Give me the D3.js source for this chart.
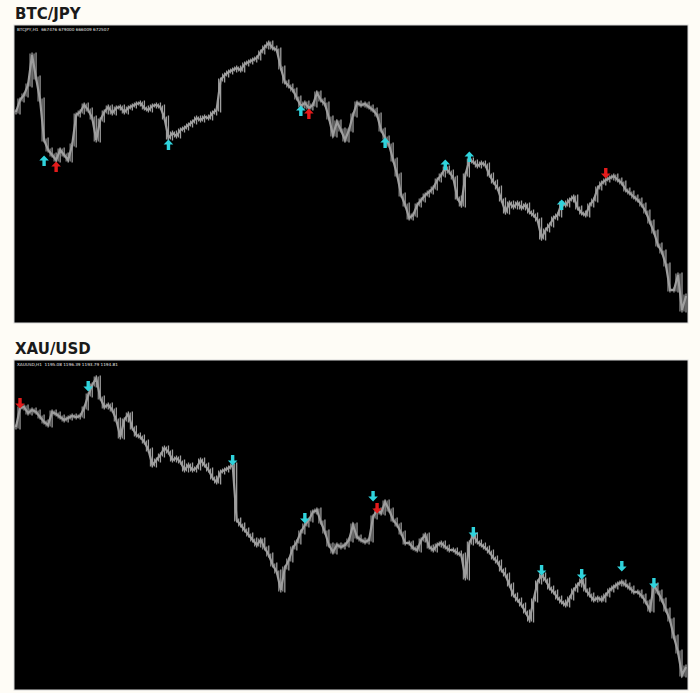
<!DOCTYPE html>
<html>
<head>
<meta charset="utf-8">
<script src="https://cdn.jsdelivr.net/npm/d3@7"></script>
<style>
  html, body { margin: 0; padding: 0; background: #fefcf6; }
  svg { display: block; }
</style>
</head>
<body>
<svg id="chart" width="700" height="693"></svg>
<script>
// ---------- DATA ----------
const btcTitle = "BTC/JPY";
const btcHeader = "BTCJPY,H1  667476 679000 666009 672507";
// H1 closes, thousands of JPY
const btcPrices = [
  766, 772, 774.5, 779.5, 794.5, 783, 772, 752, 747, 744.5,
  742, 747, 744.5, 742, 749.5, 764.5, 766, 769.5, 767, 763,
  752, 762, 766, 768.5, 765.5, 768, 768.5, 766, 768, 769,
  770, 770.5, 768, 767, 769, 769.5, 768.5, 763, 753, 755.5,
  754, 757, 758, 759.5, 761, 763, 762, 763.5, 763, 765.5,
  767, 782, 784.5, 786, 787, 788, 787, 790, 791, 792,
  793, 796, 798.5, 800.5, 798, 797, 788, 781, 779, 777,
  773, 769, 770.5, 768, 769.5, 775.5, 772, 770, 763, 754.5,
  761, 757, 752, 757, 764.5, 770.5, 769.5, 770, 768.5, 767,
  764.5, 757, 753, 749.5, 742, 734.5, 724.5, 719.5, 713, 714.5,
  719.5, 722, 724.5, 726, 728, 732, 734.5, 738, 736, 733,
  723, 719.5, 734.5, 742, 741, 739, 740.5, 739.5, 734.5, 731,
  728, 722, 716, 720.5, 718.5, 720.5, 718, 719.5, 716, 714.5,
  712, 703, 707, 709.5, 713, 714.5, 720.5, 719.5, 722, 723.5,
  718, 715.5, 714.5, 719.5, 722, 728, 730.5, 732, 733, 734,
  732, 730.5, 727, 725.5, 723.5, 722, 719.5, 716, 711, 706,
  699.5, 696, 689.5, 677, 677, 684.5, 667, 674
];
const btcDomain = [660.5, 809.5];
// signal arrows: bar index, price level, colour kind, direction
const btcSignalIndex = [7, 10, 38, 71, 73, 92, 107, 113, 136, 147];
const btcSignalPrice = [741.5, 738.5, 749.5, 766.5, 765, 750.5, 739.5, 743.5, 719.5, 735.5];
const btcSignalKind  = ["buy", "sell", "buy", "buy", "sell", "buy", "buy", "buy", "buy", "sell"];
const btcSignalDir   = ["up", "up", "up", "up", "up", "up", "up", "up", "up", "down"];

const xauTitle = "XAU/USD";
const xauHeader = "XAUUSD,H1  1195.08 1196.39 1193.79 1194.81";
const xauPrices = [
  1218.8, 1220.7, 1220.8, 1220.2, 1220.5, 1220.3, 1219.8, 1219.3, 1219.0, 1220.3,
  1220.1, 1219.8, 1219.5, 1219.7, 1219.9, 1219.8, 1219.9, 1220.7, 1222.0, 1223.0,
  1223.7, 1221.7, 1220.8, 1221.0, 1220.5, 1219.5, 1217.8, 1219.5, 1220.1, 1218.7,
  1218.0, 1217.8, 1217.3, 1216.5, 1215.0, 1215.5, 1216.0, 1216.7, 1216.3, 1215.5,
  1215.7, 1215.3, 1214.5, 1215.0, 1214.5, 1214.7, 1215.5, 1215.0, 1214.5, 1213.7,
  1213.3, 1214.3, 1214.5, 1214.7, 1215.0, 1209.5, 1209.0, 1208.5, 1208.0, 1207.5,
  1207.0, 1207.5, 1206.7, 1206.0, 1205.0, 1204.3, 1202.5, 1204.7, 1205.5, 1206.7,
  1207.3, 1208.3, 1209.0, 1209.5, 1210.3, 1210.5, 1209.3, 1208.3, 1207.0, 1206.3,
  1207.0, 1206.8, 1207.0, 1207.5, 1209.0, 1207.8, 1207.5, 1207.3, 1207.5, 1209.8,
  1210.5, 1210.2, 1211.3, 1210.5, 1209.5, 1209.0, 1208.2, 1207.2, 1207.2, 1206.7,
  1206.5, 1207.5, 1208.0, 1206.8, 1206.5, 1207.0, 1207.2, 1206.8, 1206.5, 1206.5,
  1206.2, 1206.0, 1203.7, 1207.2, 1208.0, 1207.3, 1207.0, 1206.7, 1206.3, 1205.7,
  1205.3, 1204.5, 1204.0, 1203.0, 1202.0, 1201.5, 1201.0, 1200.3, 1199.5, 1201.5,
  1203.3, 1204.0, 1203.5, 1202.7, 1202.3, 1201.7, 1201.3, 1201.0, 1201.7, 1202.5,
  1203.0, 1203.5, 1202.5, 1202.0, 1201.5, 1201.7, 1201.5, 1202.0, 1202.5, 1202.8,
  1203.1, 1203.3, 1203.0, 1202.7, 1202.3, 1202.3, 1201.9, 1201.3, 1200.5, 1203.0,
  1202.3, 1201.5, 1200.5, 1199.5, 1197.8, 1196.3, 1194.0, 1194.8
];
const xauDomain = [1192.5, 1225.5];
const xauSignalIndex = [1, 18, 54, 72, 89, 90, 114, 131, 141, 151, 159];
const xauSignalPrice = [1221.2, 1222.9, 1215.5, 1209.7, 1211.9, 1210.7, 1208.3, 1204.5, 1204.1, 1204.9, 1203.2];
const xauSignalKind  = ["sell", "buy", "buy", "buy", "buy", "sell", "buy", "buy", "buy", "buy", "buy"];
const xauSignalDir   = ["down", "down", "down", "down", "down", "down", "down", "down", "down", "down", "down"];

// ---------- DRAW ----------
const svg = d3.select("#chart");
const colors = { buy: "#2fd3dc", sell: "#e41b1b", line: "#9e9e9e" };

function arrowPath() {
  return "M0,-5.5 L4.8,-0.5 L1.7,-0.5 L1.7,5 L-1.7,5 L-1.7,-0.5 L-4.8,-0.5 Z";
}

function drawPanel(cfg) {
  const g = svg.append("g");
  g.append("text")
    .attr("x", cfg.titleX).attr("y", cfg.titleY)
    .attr("font-family", "DejaVu Sans, Verdana, sans-serif")
    .attr("font-weight", "bold").attr("font-size", 15)
    .attr("fill", "#1a1a1a")
    .text(cfg.title);

  g.append("rect")
    .attr("x", cfg.x0).attr("y", cfg.y0)
    .attr("width", cfg.x1 - cfg.x0).attr("height", cfg.y1 - cfg.y0)
    .attr("fill", "#000").attr("stroke", "#d8d8d8").attr("stroke-width", 1);

  g.append("text")
    .attr("x", cfg.x0 + 3).attr("y", cfg.y0 + 6)
    .attr("font-family", "DejaVu Sans, sans-serif")
    .attr("font-size", 4.2).attr("fill", "#e8e8e8")
    .attr("xml:space", "preserve")
    .text(cfg.header);

  const data = cfg.prices;
  const x = d3.scaleLinear().domain([0, data.length - 1]).range([cfg.x0 + 2, cfg.x1 - 2]);
  const y = d3.scaleLinear().domain(cfg.domain).range([cfg.y1, cfg.y0]);

  const clip = "clip" + cfg.id;
  g.append("clipPath").attr("id", clip).append("rect")
    .attr("x", cfg.x0).attr("y", cfg.y0)
    .attr("width", cfg.x1 - cfg.x0).attr("height", cfg.y1 - cfg.y0);
  const inner = g.append("g").attr("clip-path", `url(#${clip})`);

  // H1 bars: each bar spans from the previous close to its own close, plus wick
  const step = x(1) - x(0);
  inner.selectAll("line.wick").data(data).join("line")
    .attr("class", "wick")
    .attr("x1", (d, i) => x(i)).attr("x2", (d, i) => x(i))
    .attr("y1", (d, i) => y(Math.max(d, data[Math.max(0, i - 1)])) - 2.5)
    .attr("y2", (d, i) => y(Math.min(d, data[Math.max(0, i - 1)])) + 2.5)
    .attr("stroke", colors.line).attr("stroke-width", 1.3);
  inner.selectAll("line.mid").data(data).join("line")
    .attr("class", "mid")
    .attr("x1", (d, i) => x(i) - step / 2).attr("x2", (d, i) => x(i) - step / 2)
    .attr("y1", (d, i) => y(Math.max(d, data[Math.max(0, i - 1)])) - 1.5)
    .attr("y2", (d, i) => y(Math.min(d, data[Math.max(0, i - 1)])) + 1.5)
    .attr("stroke", colors.line).attr("stroke-width", 1.1);

  inner.append("path").datum(data)
    .attr("d", d3.line().x((d, i) => x(i)).y(d => y(d)))
    .attr("fill", "none").attr("stroke", colors.line)
    .attr("stroke-width", 2.2).attr("stroke-linejoin", "miter");

  const sig = cfg.sigIndex.map((idx, k) => ({
    i: idx, p: cfg.sigPrice[k], kind: cfg.sigKind[k], dir: cfg.sigDir[k]
  }));
  inner.selectAll("path.sig").data(sig).join("path")
    .attr("class", "sig")
    .attr("d", arrowPath())
    .attr("transform", d => `translate(${x(d.i)},${y(d.p)}) rotate(${d.dir === "up" ? 0 : 180})`)
    .attr("fill", d => colors[d.kind]);
}

drawPanel({
  id: "btc", title: btcTitle, header: btcHeader, titleX: 15, titleY: 19,
  x0: 14, x1: 688, y0: 25, y1: 323,
  prices: btcPrices, domain: btcDomain,
  sigIndex: btcSignalIndex, sigPrice: btcSignalPrice, sigKind: btcSignalKind, sigDir: btcSignalDir
});
drawPanel({
  id: "xau", title: xauTitle, header: xauHeader, titleX: 15, titleY: 354,
  x0: 14, x1: 688, y0: 360, y1: 690,
  prices: xauPrices, domain: xauDomain,
  sigIndex: xauSignalIndex, sigPrice: xauSignalPrice, sigKind: xauSignalKind, sigDir: xauSignalDir
});
</script>
</body>
</html>
